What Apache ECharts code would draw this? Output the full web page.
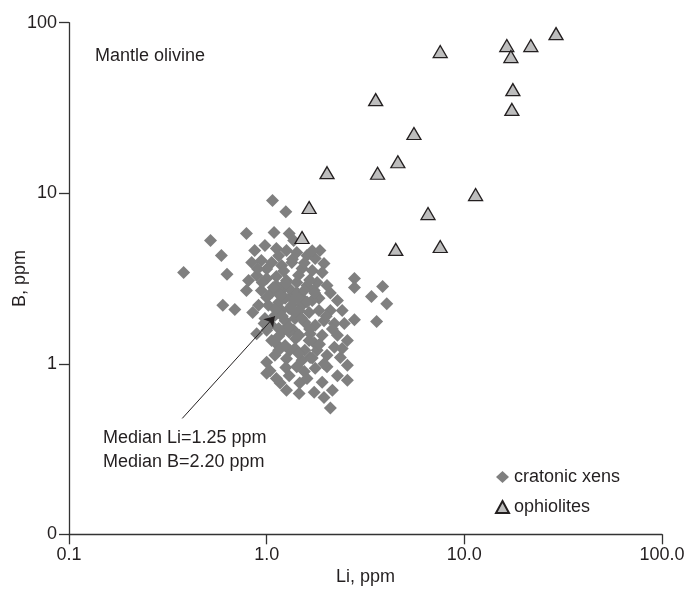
<!DOCTYPE html>
<html>
<head>
<meta charset="utf-8">
<script src="https://cdn.jsdelivr.net/npm/echarts@6/dist/echarts.min.js"></script>
<style>
html,body{margin:0;padding:0;background:#fff;}
#chart{width:693px;height:591px;}
</style>
</head>
<body>
<div id="chart"></div>
<script>
// Li (ppm), B (ppm) for cratonic xenoliths
const cratonicLi = [
 1.07,1.25,0.79,1.09,1.30,1.37,0.52,0.59,0.38,0.63,0.81,0.79,0.60,0.69,
 2.78,2.78,3.86,3.39,4.05,3.60,2.78,2.47,1.86,1.95,1.74,1.84,
 2.10,1.95,1.74,1.47,1.46,1.17,1.26,1.00,1.04,2.56,2.36,2.20,2.02,1.66,1.42,1.31,
 2.10,2.20,1.95,1.66,1.74,0.89,0.97,1.22,1.12,1.37,
 0.87,0.98,1.12,1.26,1.42,1.60,1.76,0.84,0.94,1.06,1.19,1.34,1.51,1.70,1.91,
 0.89,1.00,1.12,1.26,1.42,1.60,1.80,2.02,0.94,1.06,1.19,1.34,1.51,1.70,2.28,
 0.91,1.02,1.15,1.30,1.46,1.64,1.84,0.98,1.10,1.24,1.39,1.56,1.76,2.41,
 1.00,1.15,1.30,1.46,1.64,1.91,2.28,2.56,1.06,1.24,1.39,1.56,1.80,2.02,2.41,
 1.10,1.26,1.51,1.76,2.28,2.56,1.00,1.12,1.30,1.60,1.91,2.15,
 1.24,1.34,1.19,1.42,1.12,1.30,1.51,1.17,1.37,1.24,
 1.15,1.35,1.55,1.00,1.22,1.45,1.65,0.95,1.08,1.55,1.75,1.00,1.45,1.60,1.10,1.38,1.20,1.50,
 1.05,1.30,1.65,1.15,1.40,1.85,1.15,1.45,1.70,1.95,1.25,1.55,2.15,2.00,0.85,0.90,1.70,2.10
];
const cratonicB = [
 9.06,7.80,5.80,5.89,5.80,5.29,5.29,4.31,3.43,3.35,3.08,2.69,2.20,2.08,
 3.16,2.80,2.84,2.48,2.25,1.77,1.81,1.72,4.62,3.87,2.69,2.42,
 0.55,0.635,0.68,0.77,0.67,0.77,0.70,1.02,0.91,0.98,1.09,1.25,0.96,1.09,0.96,1.20,
 2.05,1.72,1.79,1.50,1.33,1.50,1.72,1.57,1.31,1.57,
 4.62,4.94,4.74,4.62,4.49,4.31,4.14,3.92,4.03,3.92,3.77,3.92,3.62,3.52,3.43,
 3.29,3.16,3.25,3.08,3.00,2.88,3.00,2.88,2.69,2.62,2.69,2.51,2.42,2.35,2.35,
 2.20,2.20,2.29,2.11,2.05,2.00,2.05,1.84,1.92,1.79,1.84,1.75,1.68,2.05,
 1.57,1.61,1.53,1.47,1.37,1.47,1.47,1.37,1.37,1.28,1.23,1.20,1.20,1.12,1.23,
 1.12,1.07,1.05,0.94,0.85,0.80,0.88,0.82,0.85,0.82,0.78,0.70,
 2.42,2.20,2.05,2.62,2.88,2.76,2.20,2.51,2.35,2.96,
 4.30,4.10,3.90,3.60,3.50,3.30,3.10,3.00,2.80,2.70,2.60,2.45,2.40,2.30,2.10,2.00,1.90,1.85,
 1.70,1.65,1.60,1.45,1.40,1.30,1.20,1.15,1.08,1.00,0.95,0.90,1.60,1.90,2.00,3.60,4.60,2.60
];
// Li (ppm), B (ppm) for ophiolites
const ophioliteLi = [29.1,16.4,21.7,17.2,7.55,17.6,17.4,3.56,5.56,4.61,2.02,3.64,11.4,6.55,1.64,1.51,4.50,7.55];
const ophioliteB  = [86.3,73.4,73.4,63.3,67.7,40.5,31.0,35.4,22.4,15.3,13.2,13.1,9.82,7.60,8.25,5.50,4.68,4.87];

const xTicks = [0.1, 1, 10, 100];
const xTickLabels = ['0.1', '1.0', '10.0', '100.0'];
const yTicks = [0.1, 1, 10, 100];
const yTickLabels = ['0', '1', '10', '100'];

const medianLi = 1.25, medianB = 2.20;
const arrowFrom = [0.374, 0.478];
const arrowTo = [1.1, 1.9];

const FONT = '"Liberation Sans", Arial, sans-serif';
const TXT = '#231f20';

const chart = echarts.init(document.getElementById('chart'), null, {renderer: 'canvas'});
const labelFor = (ticks, labels) => v => {
  for (let i = 0; i < ticks.length; i++) if (Math.abs(Math.log10(v) - Math.log10(ticks[i])) < 1e-6) return labels[i];
  return '';
};
chart.setOption({
  animation: false,
  backgroundColor: '#fff',
  textStyle: {fontFamily: FONT},
  grid: {left: 69, right: 31, top: 22.7, bottom: 56.7, containLabel: false, outerBoundsMode: 'none'},
  xAxis: {
    type: 'log', logBase: 10, min: 0.1, max: 100,
    name: 'Li, ppm', nameLocation: 'middle', nameGap: 34, nameMoveOverlap: false,
    nameTextStyle: {fontSize: 18, color: TXT, fontFamily: FONT},
    axisLine: {lineStyle: {color: '#333', width: 1.3}},
    axisTick: {inside: false, length: 10, lineStyle: {color: '#333', width: 1.3}},
    minorTick: {show: false},
    splitLine: {show: false},
    axisLabel: {fontSize: 18, color: TXT, fontFamily: FONT, margin: 12, formatter: labelFor(xTicks, xTickLabels)}
  },
  yAxis: {
    type: 'log', logBase: 10, min: 0.1, max: 100,
    name: 'B, ppm', nameLocation: 'middle', nameGap: 40, nameMoveOverlap: false,
    nameTextStyle: {fontSize: 18, color: TXT, fontFamily: FONT},
    axisLine: {lineStyle: {color: '#333', width: 1.3}},
    axisTick: {inside: false, length: 10, lineStyle: {color: '#333', width: 1.3}},
    minorTick: {show: false},
    splitLine: {show: false},
    axisLabel: {fontSize: 18, color: TXT, fontFamily: FONT, margin: 12, formatter: labelFor(yTicks, yTickLabels)}
  },
  legend: {
    orient: 'vertical', left: 490, top: 463, itemGap: 12,
    itemWidth: 13, itemHeight: 12,
    textStyle: {fontSize: 18, color: TXT, fontFamily: FONT},
    data: [
      {name: 'cratonic xens', icon: 'diamond'},
      {name: 'ophiolites', icon: 'triangle'}
    ]
  },
  series: [
    {
      name: 'cratonic xens', type: 'scatter', symbol: 'diamond', symbolSize: 13,
      itemStyle: {color: '#7f7f7f', opacity: 1},
      data: cratonicLi.map((v, i) => [v, cratonicB[i]]),
      markLine: {
        silent: true, symbol: ['none', 'arrow'], symbolSize: 10,
        lineStyle: {color: '#231f20', width: 1, type: 'solid'},
        label: {show: false},
        data: [[{coord: arrowFrom}, {coord: arrowTo}]]
      }
    },
    {
      name: 'ophiolites', type: 'scatter', symbol: 'triangle', symbolSize: [14, 12],
      itemStyle: {color: '#bdbdbd', borderColor: '#231f20', borderWidth: 1.3, opacity: 1},
      data: ophioliteLi.map((v, i) => [v, ophioliteB[i]])
    }
  ],
  graphic: [
    {type: 'text', left: 95, top: 47, style: {text: 'Mantle olivine', fontSize: 18, fill: TXT, fontFamily: FONT}},
    {type: 'text', left: 103, top: 426, style: {
      text: 'Median Li=' + medianLi.toFixed(2) + ' ppm\nMedian B=' + medianB.toFixed(2) + ' ppm',
      fontSize: 18, lineHeight: 24, fill: TXT, fontFamily: FONT}}
  ]
});
</script>
</body>
</html>
